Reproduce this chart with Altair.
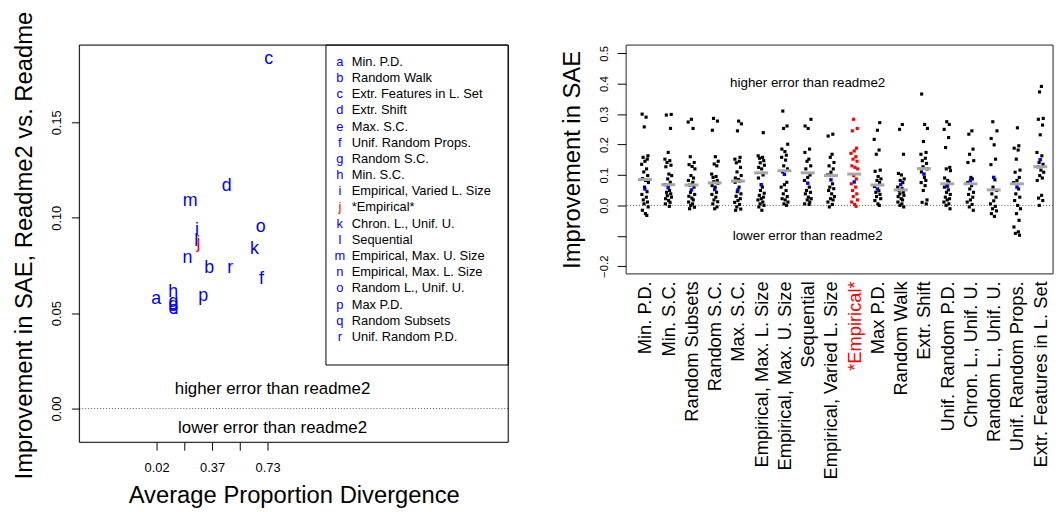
import json
import altair as alt
import pandas as pd

FONT = "Liberation Sans"

# ---------------- left panel data ----------------
letters = list("abcdefghijklmnopqr")
method_names = [
    "Min. P.D.", "Random Walk", "Extr. Features in L. Set", "Extr. Shift",
    "Max. S.C.", "Unif. Random Props.", "Random S.C.", "Min. S.C.",
    "Empirical, Varied L. Size", "*Empirical*", "Chron. L., Unif. U.",
    "Sequential", "Empirical, Max. U. Size", "Empirical, Max. L. Size",
    "Random L., Unif. U.", "Max P.D.", "Random Subsets", "Unif. Random P.D.",
]
avg_prop_div = [0.018, 0.356, 0.737, 0.468, 0.128, 0.692, 0.128, 0.126, 0.278,
                0.288, 0.646, 0.274, 0.234, 0.218, 0.686, 0.318, 0.128, 0.491]
sae_improvement = [0.0575, 0.0736, 0.183, 0.1165, 0.052, 0.0679, 0.056, 0.0609,
                   0.0935, 0.0867, 0.0834, 0.088, 0.1085, 0.0788, 0.0952,
                   0.0589, 0.0545, 0.0736]
x_ticks = [0.02, 0.1975, 0.375, 0.5525, 0.73]
x_tick_labels = ["0.02", "", "0.37", "", "0.73"]
y_ticks_left = [0.0, 0.05, 0.10, 0.15]

# ---------------- right panel data ----------------
strip_order = [
    "Min. P.D.", "Min. S.C.", "Random Subsets", "Random S.C.", "Max. S.C.",
    "Empirical, Max. L. Size", "Empirical, Max. U. Size", "Sequential",
    "Empirical, Varied L. Size", "*Empirical*", "Max P.D.", "Random Walk",
    "Extr. Shift", "Unif. Random P.D.", "Chron. L., Unif. U.",
    "Random L., Unif. U.", "Unif. Random Props.", "Extr. Features in L. Set",
]
v_min_pd = [0.30, 0.29, 0.258, 0.163, 0.158, 0.152, 0.145, 0.135, 0.12, 0.11, 0.098,
            0.088, 0.082, 0.075, 0.06, 0.045, 0.036, 0.027, 0.018, 0.011, 0.005,
            -0.005, -0.016, -0.027, -0.033]
v_min_sc = [0.299, 0.297, 0.253, 0.174, 0.152, 0.147, 0.141, 0.132, 0.127, 0.103,
            0.098, 0.087, 0.076, 0.068, 0.049, 0.043, 0.038, 0.032, 0.027, 0.022,
            0.016, 0.01, 0.005, -0.003]
v_random_subsets = [0.283, 0.274, 0.253, 0.16, 0.141, 0.134, 0.128, 0.12, 0.098, 0.09,
                    0.082, 0.076, 0.067, 0.06, 0.043, 0.036, 0.03, 0.024, 0.018,
                    0.011, 0.005, 0.0, -0.006, -0.011]
v_random_sc = [0.286, 0.277, 0.247, 0.16, 0.145, 0.136, 0.13, 0.103, 0.095, 0.092,
               0.082, 0.078, 0.073, 0.065, 0.06, 0.043, 0.036, 0.027, 0.018, 0.012,
               0.005, -0.005, -0.011]
v_max_sc = [0.277, 0.268, 0.245, 0.158, 0.152, 0.145, 0.14, 0.125, 0.11, 0.098, 0.09,
            0.085, 0.08, 0.076, 0.06, 0.045, 0.038, 0.03, 0.022, 0.016, 0.01, 0.003,
            -0.005, -0.012, -0.016]
v_emp_max_l = [0.239, 0.163, 0.158, 0.155, 0.147, 0.14, 0.132, 0.125, 0.12, 0.1, 0.09,
               0.06, 0.049, 0.04, 0.033, 0.027, 0.022, 0.018, 0.011, 0.005, 0.0,
               -0.005, -0.016]
v_emp_max_u = [0.31, 0.261, 0.253, 0.201, 0.185, 0.177, 0.165, 0.158, 0.149, 0.13,
               0.12, 0.11, 0.076, 0.068, 0.06, 0.049, 0.038, 0.029, 0.022, 0.018,
               0.011, 0.005, 0.0]
v_sequential = [0.283, 0.261, 0.253, 0.185, 0.174, 0.152, 0.145, 0.13, 0.12, 0.1,
                0.092, 0.082, 0.06, 0.049, 0.043, 0.038, 0.027, 0.022, 0.018, 0.011,
                0.005, 0.003]
v_emp_varied_l = [0.234, 0.228, 0.168, 0.158, 0.141, 0.13, 0.12, 0.109, 0.1, 0.071,
                  0.06, 0.055, 0.049, 0.038, 0.029, 0.022, 0.018, 0.011, 0.003, -0.005]
v_empirical = [0.283, 0.253, 0.245, 0.188, 0.179, 0.171, 0.16, 0.152, 0.145, 0.13,
               0.125, 0.12, 0.098, 0.087, 0.071, 0.06, 0.049, 0.038, 0.029, 0.018,
               0.011, 0.003, -0.003]
v_max_pd = [0.272, 0.247, 0.217, 0.182, 0.168, 0.116, 0.112, 0.095, 0.087, 0.082,
            0.075, 0.062, 0.048, 0.043, 0.036, 0.029, 0.022, 0.016, 0.005, 0.0]
v_random_walk = [0.266, 0.25, 0.168, 0.105, 0.1, 0.087, 0.082, 0.075, 0.06, 0.055,
                 0.049, 0.043, 0.038, 0.033, 0.029, 0.022, 0.018, 0.011, 0.005, 0.0,
                 -0.005]
v_extr_shift = [0.366, 0.266, 0.253, 0.21, 0.174, 0.168, 0.155, 0.147, 0.138, 0.127,
                0.12, 0.11, 0.092, 0.082, 0.075, 0.065, 0.049, 0.018, 0.01, 0.005]
v_unif_random_pd = [0.275, 0.266, 0.25, 0.223, 0.19, 0.125, 0.12, 0.114, 0.09, 0.082,
                    0.076, 0.06, 0.051, 0.043, 0.036, 0.027, 0.022, 0.018, 0.011,
                    0.005, 0.0, -0.011]
v_chron_l = [0.245, 0.234, 0.185, 0.168, 0.147, 0.141, 0.092, 0.087, 0.075, 0.065,
             0.054, 0.043, 0.036, 0.027, 0.018, 0.011, 0.003, -0.005, -0.016]
v_random_l = [0.275, 0.245, 0.22, 0.199, 0.152, 0.134, 0.084, 0.06, 0.049, 0.038,
              0.027, 0.015, 0.005, -0.003, -0.011, -0.018, -0.027, -0.036]
v_unif_random_props = [0.255, 0.196, 0.188, 0.182, 0.152, 0.116, 0.109, 0.092, 0.082,
                       0.075, 0.054, 0.038, 0.027, 0.016, 0.0, -0.011, -0.027, -0.049,
                       -0.071, -0.087, -0.092, -0.098]
v_extr_features = [0.391, 0.373, 0.286, 0.283, 0.264, 0.232, 0.174, 0.163, 0.141,
                   0.135, 0.127, 0.116, 0.109, 0.098, 0.09, 0.082, 0.033, 0.024,
                   0.016, 0.0]
strip_values = [v_min_pd, v_min_sc, v_random_subsets, v_random_sc, v_max_sc,
                v_emp_max_l, v_emp_max_u, v_sequential, v_emp_varied_l, v_empirical,
                v_max_pd, v_random_walk, v_extr_shift, v_unif_random_pd, v_chron_l,
                v_random_l, v_unif_random_props, v_extr_features]
strip_centers = [0.085, 0.068, 0.067, 0.074, 0.08, 0.107, 0.114, 0.107, 0.098, 0.103,
                 0.067, 0.051, 0.121, 0.071, 0.071, 0.051, 0.071, 0.127]
strip_blue = [0.054, 0.058, 0.051, 0.052, 0.051, 0.068, 0.102, 0.073, 0.084, 0.077,
              0.054, 0.068, 0.103, 0.063, 0.082, 0.092, 0.06, 0.15]
y_ticks_right = [-0.2, -0.1, 0.0, 0.1, 0.2, 0.3, 0.4, 0.5]
jitter_pattern = [-0.12, 0.05, -0.03, 0.13, -0.08, 0.1, 0.0, -0.14, 0.07, -0.05,
                  0.12, -0.1, 0.03, 0.15, -0.02, 0.09, -0.13, 0.06, -0.07, 0.11,
                  -0.04, 0.14, -0.11, 0.02, 0.08]

LW, LH = 433, 401   # left plot area
RW, RH = 431, 231   # right plot area

# ---------------- left panel ----------------
left_df = pd.DataFrame({
    "letter": letters, "method": method_names,
    "x": avg_prop_div, "y": sae_improvement,
    "row": list(range(len(letters))),
    "col": ["#ff0000" if m == "*Empirical*" else "#0000ff" for m in method_names],
})

xs_left = alt.Scale(domain=[-0.475, 2.271], nice=False, zero=False)
ys_left = alt.Scale(domain=[-0.01765, 0.1905], nice=False, zero=False)

x_label_expr = "''"
for v, lab in reversed(list(zip(x_ticks, x_tick_labels))):
    x_label_expr = f"(abs(datum.value - {v}) < 1e-6 ? '{lab}' : {x_label_expr})"

left_x_axis = alt.Axis(
    values=x_ticks, labelExpr=x_label_expr, title="Average Proportion Divergence",
    grid=False, domain=False, tickSize=8, tickColor="black",
    labelFontSize=13, labelPadding=12, titleFontSize=24, titlePadding=9,
    labelOverlap=False, labelFont=FONT, titleFont=FONT, titleFontWeight="normal",
)
left_y_axis = alt.Axis(
    values=y_ticks_left, format=".2f", title="Improvement in SAE, Readme2 vs. Readme",
    grid=False, domain=False, tickSize=8, tickColor="black",
    labelAngle=-90, labelAlign="center", labelBaseline="alphabetic",
    labelFontSize=13, labelPadding=11, titleFontSize=24, titlePadding=14,
    titleY=LH / 2 + 1.5, labelOverlap=False,
    titleLimit=1000, labelFont=FONT, titleFont=FONT, titleFontWeight="normal",
)

zero_left = alt.Chart(pd.DataFrame({"y": [0.0]})).mark_rule(
    strokeDash=[1, 2], color="#555555", strokeWidth=1
).encode(y=alt.Y("y:Q", scale=ys_left, axis=left_y_axis))

letters_layer = alt.Chart(left_df).mark_text(
    font=FONT, fontSize=18, baseline="middle", align="center"
).encode(
    x=alt.X("x:Q", scale=xs_left, axis=left_x_axis),
    y=alt.Y("y:Q", scale=ys_left, axis=left_y_axis),
    text="letter:N",
    color=alt.Color("col:N", scale=None),
)

left_notes = pd.DataFrame({
    "x": [0.762, 0.762], "y": [0.0104, -0.0104],
    "t": ["higher error than readme2", "lower error than readme2"],
})
notes_left = alt.Chart(left_notes).mark_text(
    font=FONT, fontSize=17, baseline="middle", align="center", color="black"
).encode(
    x=alt.X("x:Q", scale=xs_left, axis=left_x_axis),
    y=alt.Y("y:Q", scale=ys_left, axis=left_y_axis),
    text="t:N",
)

frame_left = alt.Chart(pd.DataFrame({"a": [0]})).mark_rect(
    fillOpacity=0, stroke="black", strokeWidth=1
).encode(x=alt.value(0), x2=alt.value(LW), y=alt.value(0), y2=alt.value(LH))

legend_box = alt.Chart(pd.DataFrame({"a": [0]})).mark_rect(
    fill="white", stroke="black", strokeWidth=1
).encode(x=alt.value(249), x2=alt.value(LW), y=alt.value(0), y2=alt.value(323))

row_scale = alt.Scale(type="point", domain=list(range(len(letters))),
                      range=[17, 294.7], padding=0)
legend_letters = alt.Chart(left_df).mark_text(
    font=FONT, fontSize=13, baseline="middle", align="center"
).encode(
    x=alt.value(263),
    y=alt.Y("row:O", scale=row_scale, axis=None),
    text="letter:N",
    color=alt.Color("col:N", scale=None),
)
legend_labels = alt.Chart(left_df).mark_text(
    font=FONT, fontSize=13, baseline="middle", align="left", color="black"
).encode(
    x=alt.value(275),
    y=alt.Y("row:O", scale=row_scale, axis=None),
    text="method:N",
)

main_left = alt.layer(zero_left, letters_layer, notes_left)
legend_left = alt.layer(legend_box, legend_letters, legend_labels, frame_left)
left = alt.layer(main_left, legend_left).resolve_scale(y="independent").properties(
    width=LW, height=LH
)

# ---------------- right panel ----------------
rows = []
for k, (name, vals) in enumerate(zip(strip_order, strip_values)):
    pos = k + 1
    for i, v in enumerate(vals):
        rows.append({
            "pos": pos,
            "jx": pos + jitter_pattern[(i + 3 * k) % len(jitter_pattern)],
            "value": v,
            "col": "#ff0000" if name == "*Empirical*" else "#000000",
        })
strip_df = pd.DataFrame(rows)
center_df = pd.DataFrame({
    "pos": list(range(1, len(strip_order) + 1)),
    "center": strip_centers, "blue": strip_blue,
})

xs_right = alt.Scale(domain=[0.19, 18.55], nice=False, zero=False)
ys_right = alt.Scale(domain=[-0.225, 0.527], nice=False, zero=False)

names_js = json.dumps(strip_order)

right_x_axis = alt.Axis(
    values=list(range(1, len(strip_order) + 1)),
    labelExpr=f"{names_js}[datum.value - 1]",
    title=None, grid=False, domain=False, ticks=False,
    labelAngle=-90, labelAlign="right", labelBaseline="middle",
    labelFontSize=18.5, labelPadding=7, labelLimit=0, labelOverlap=False,
    labelFont=FONT,
    labelColor={"condition": {"test": "datum.value == 10", "value": "#ff0000"},
                "value": "black"},
)
right_y_axis = alt.Axis(
    values=y_ticks_right,
    labelExpr="abs(datum.value + 0.1) < 1e-6 ? '' : format(datum.value, '.1f')",
    title="Improvement in SAE", grid=False, domain=False,
    tickSize=9, tickColor="black",
    labelAngle=-90, labelAlign="center", labelBaseline="alphabetic",
    labelFontSize=11.5, labelPadding=10, titleFontSize=24, titlePadding=14,
    labelOverlap=False,
    titleLimit=1000, labelFont=FONT, titleFont=FONT, titleFontWeight="normal",
)

zero_right = alt.Chart(pd.DataFrame({"y": [0.0]})).mark_rule(
    strokeDash=[1, 2], color="#555555", strokeWidth=1
).encode(y=alt.Y("y:Q", scale=ys_right, axis=right_y_axis))

points = alt.Chart(strip_df).mark_square(size=10, opacity=1).encode(
    x=alt.X("jx:Q", scale=xs_right, axis=right_x_axis),
    y=alt.Y("value:Q", scale=ys_right, axis=right_y_axis),
    color=alt.Color("col:N", scale=None),
)

bars = alt.Chart(center_df).transform_calculate(
    x1="datum.pos - 0.3", x2="datum.pos + 0.3"
).mark_rule(color="#a6a6a6", strokeWidth=3).encode(
    x=alt.X("x1:Q", scale=xs_right, axis=right_x_axis),
    x2="x2:Q",
    y=alt.Y("center:Q", scale=ys_right, axis=right_y_axis),
)

blue_pts = alt.Chart(center_df).mark_square(size=12, color="#0000ff", opacity=1).encode(
    x=alt.X("pos:Q", scale=xs_right, axis=right_x_axis),
    y=alt.Y("blue:Q", scale=ys_right, axis=right_y_axis),
)

right_notes = pd.DataFrame({
    "x": [8.0, 8.0], "y": [0.402, -0.1],
    "t": ["higher error than readme2", "lower error than readme2"],
})
notes_right = alt.Chart(right_notes).mark_text(
    font=FONT, fontSize=13.5, baseline="middle", align="center", color="black"
).encode(
    x=alt.X("x:Q", scale=xs_right, axis=right_x_axis),
    y=alt.Y("y:Q", scale=ys_right, axis=right_y_axis),
    text="t:N",
)

frame_right = alt.Chart(pd.DataFrame({"a": [0]})).mark_rect(
    fillOpacity=0, stroke="#333333", strokeWidth=1
).encode(x=alt.value(0), x2=alt.value(RW), y=alt.value(0), y2=alt.value(RH))

right = alt.layer(
    zero_right, points, bars, blue_pts, notes_right, frame_right
).properties(width=RW, height=RH)

chart = alt.hconcat(left, right, spacing=51).properties(
    padding={"left": 4, "top": 0, "right": 0, "bottom": 0}
).configure_view(stroke="black", strokeWidth=1).configure_axis(
    labelColor="black", titleColor="black", labelOverlap=False
).configure(background="white")

chart.save("out.html", embed_options={"renderer": "svg", "actions": False})
